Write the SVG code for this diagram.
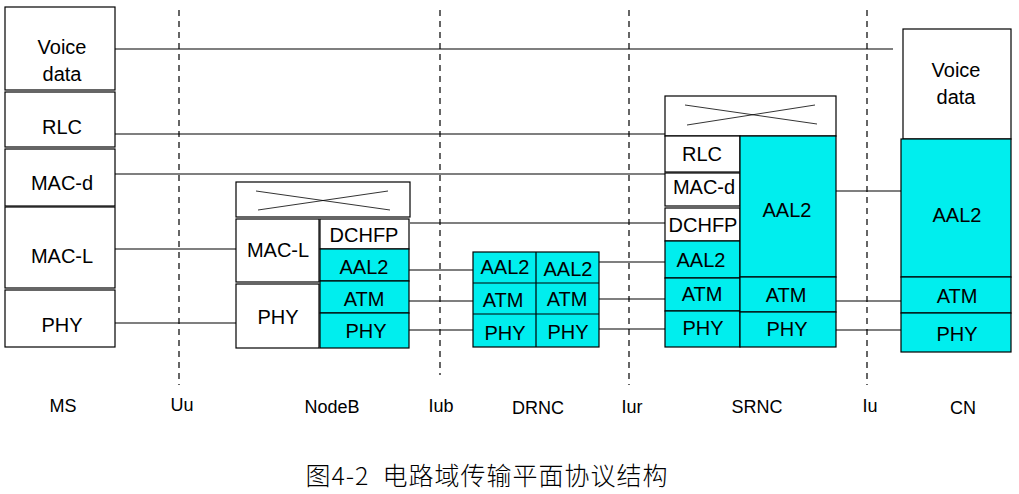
<svg xmlns="http://www.w3.org/2000/svg" width="1019" height="494" viewBox="0 0 1019 494">
<style>
.b{fill:#fff;stroke:#000;stroke-width:1.2}
.c{fill:#00eeee;stroke:#000;stroke-width:1.2}
.l{stroke:#000;stroke-width:1.2;fill:none}
.d{stroke:#000;stroke-width:1.2;stroke-dasharray:6,5;fill:none}
.x{stroke:#000;stroke-width:0.8;fill:none}
text{font-family:"Liberation Sans",Arial,sans-serif;font-size:20px;text-anchor:middle;fill:#000}
.lb{font-size:18px}
.cap{font-family:"Noto Sans CJK SC",sans-serif;font-size:25px;font-weight:300;letter-spacing:1px}
</style>
<rect width="1019" height="494" fill="#fff"/>
<g id="interfaces">
<line class="d" x1="179" y1="10" x2="179" y2="385"/>
<line class="d" x1="440" y1="10" x2="440" y2="375"/>
<line class="d" x1="629" y1="10" x2="629" y2="385"/>
<line class="d" x1="867" y1="10" x2="867" y2="385"/>
</g>
<g id="connectors">
<line class="l" x1="115" y1="49" x2="893" y2="49"/>
<line class="l" x1="115" y1="134" x2="665" y2="134"/>
<line class="l" x1="115" y1="174" x2="665" y2="174"/>
<line class="l" x1="115" y1="249" x2="236" y2="249"/>
<line class="l" x1="115" y1="323" x2="236" y2="323"/>
<line class="l" x1="410" y1="223" x2="665" y2="223"/>
<line class="l" x1="405" y1="270" x2="473" y2="270"/>
<line class="l" x1="405" y1="301" x2="473" y2="301"/>
<line class="l" x1="409" y1="330" x2="473" y2="330"/>
<line class="l" x1="599" y1="262" x2="665" y2="262"/>
<line class="l" x1="599" y1="299" x2="665" y2="299"/>
<line class="l" x1="599" y1="329" x2="665" y2="329"/>
<line class="l" x1="836" y1="191" x2="903" y2="191"/>
<line class="l" x1="836" y1="301" x2="903" y2="301"/>
<line class="l" x1="836" y1="330" x2="903" y2="330"/>
</g>
<g id="MS">
<rect class="b" x="5" y="7" width="110" height="83"/>
<rect class="b" x="5" y="92" width="110" height="55"/>
<rect class="b" x="5" y="149" width="110" height="57"/>
<rect class="b" x="5" y="207" width="110" height="81"/>
<rect class="b" x="5" y="290" width="110" height="57"/>
<text x="62" y="54">Voice</text>
<text x="62" y="81">data</text>
<text x="62" y="134">RLC</text>
<text x="62" y="190">MAC-d</text>
<text x="62" y="263">MAC-L</text>
<text x="62" y="332">PHY</text>
</g>
<g id="NodeB">
<rect class="b" x="236" y="182" width="174" height="35"/>
<path class="x" d="M256 191 L390 210 M258 210 L388 191"/>
<rect class="b" x="236" y="219" width="83" height="63"/>
<rect class="b" x="236" y="284" width="83" height="64"/>
<rect class="b" x="320" y="219" width="89" height="30"/>
<rect class="c" x="320" y="249" width="89" height="32"/>
<rect class="c" x="320" y="281" width="89" height="32"/>
<rect class="c" x="320" y="313" width="89" height="35"/>
<text x="278" y="257">MAC-L</text>
<text x="278" y="324">PHY</text>
<text x="364" y="242">DCHFP</text>
<text x="364" y="274">AAL2</text>
<text x="364" y="306">ATM</text>
<text x="366" y="338">PHY</text>
</g>
<g id="DRNC">
<rect class="c" x="473" y="252" width="126" height="95"/>
<path class="l" d="M536 252 V347 M473 283 H599 M473 314 H599"/>
<text x="505" y="274">AAL2</text>
<text x="568" y="276">AAL2</text>
<text x="503" y="307">ATM</text>
<text x="567" y="306">ATM</text>
<text x="505" y="340">PHY</text>
<text x="568" y="339">PHY</text>
</g>
<g id="SRNC">
<rect class="b" x="665" y="96" width="171" height="40"/>
<path class="x" d="M685 105 L817 124 M687 125 L815 105"/>
<rect class="b" x="665" y="136" width="75" height="36"/>
<rect class="b" x="665" y="173" width="75" height="33"/>
<rect class="b" x="665" y="208" width="75" height="33"/>
<rect class="c" x="665" y="241" width="75" height="37"/>
<rect class="c" x="665" y="278" width="75" height="33"/>
<rect class="c" x="665" y="311" width="75" height="36"/>
<rect class="c" x="740" y="136" width="96" height="141"/>
<rect class="c" x="740" y="277" width="96" height="35"/>
<rect class="c" x="740" y="312" width="96" height="35"/>
<text x="702" y="161">RLC</text>
<text x="704" y="194">MAC-d</text>
<text x="703" y="232">DCHFP</text>
<text x="701" y="267">AAL2</text>
<text x="702" y="301">ATM</text>
<text x="703" y="335">PHY</text>
<text x="787" y="217">AAL2</text>
<text x="786" y="302">ATM</text>
<text x="787" y="336">PHY</text>
</g>
<g id="CN">
<rect class="b" x="903" y="29" width="108" height="110"/>
<rect class="c" x="901" y="139" width="110" height="138"/>
<rect class="c" x="901" y="277" width="110" height="36"/>
<rect class="c" x="901" y="313" width="110" height="39"/>
<text x="956" y="77">Voice</text>
<text x="956" y="104">data</text>
<text x="957" y="222">AAL2</text>
<text x="957" y="303">ATM</text>
<text x="957" y="341">PHY</text>
</g>
<g id="labels">
<text class="lb" x="63" y="412">MS</text>
<text class="lb" x="182" y="411">Uu</text>
<text class="lb" x="332" y="413">NodeB</text>
<text class="lb" x="441" y="412">Iub</text>
<text class="lb" x="538" y="414">DRNC</text>
<text class="lb" x="632" y="413">Iur</text>
<text class="lb" x="757" y="413">SRNC</text>
<text class="lb" x="870" y="412">Iu</text>
<text class="lb" x="963" y="414">CN</text>
<text class="cap" x="487" y="485" xml:space="preserve">图4-2  电路域传输平面协议结构</text>
</g>
</svg>
